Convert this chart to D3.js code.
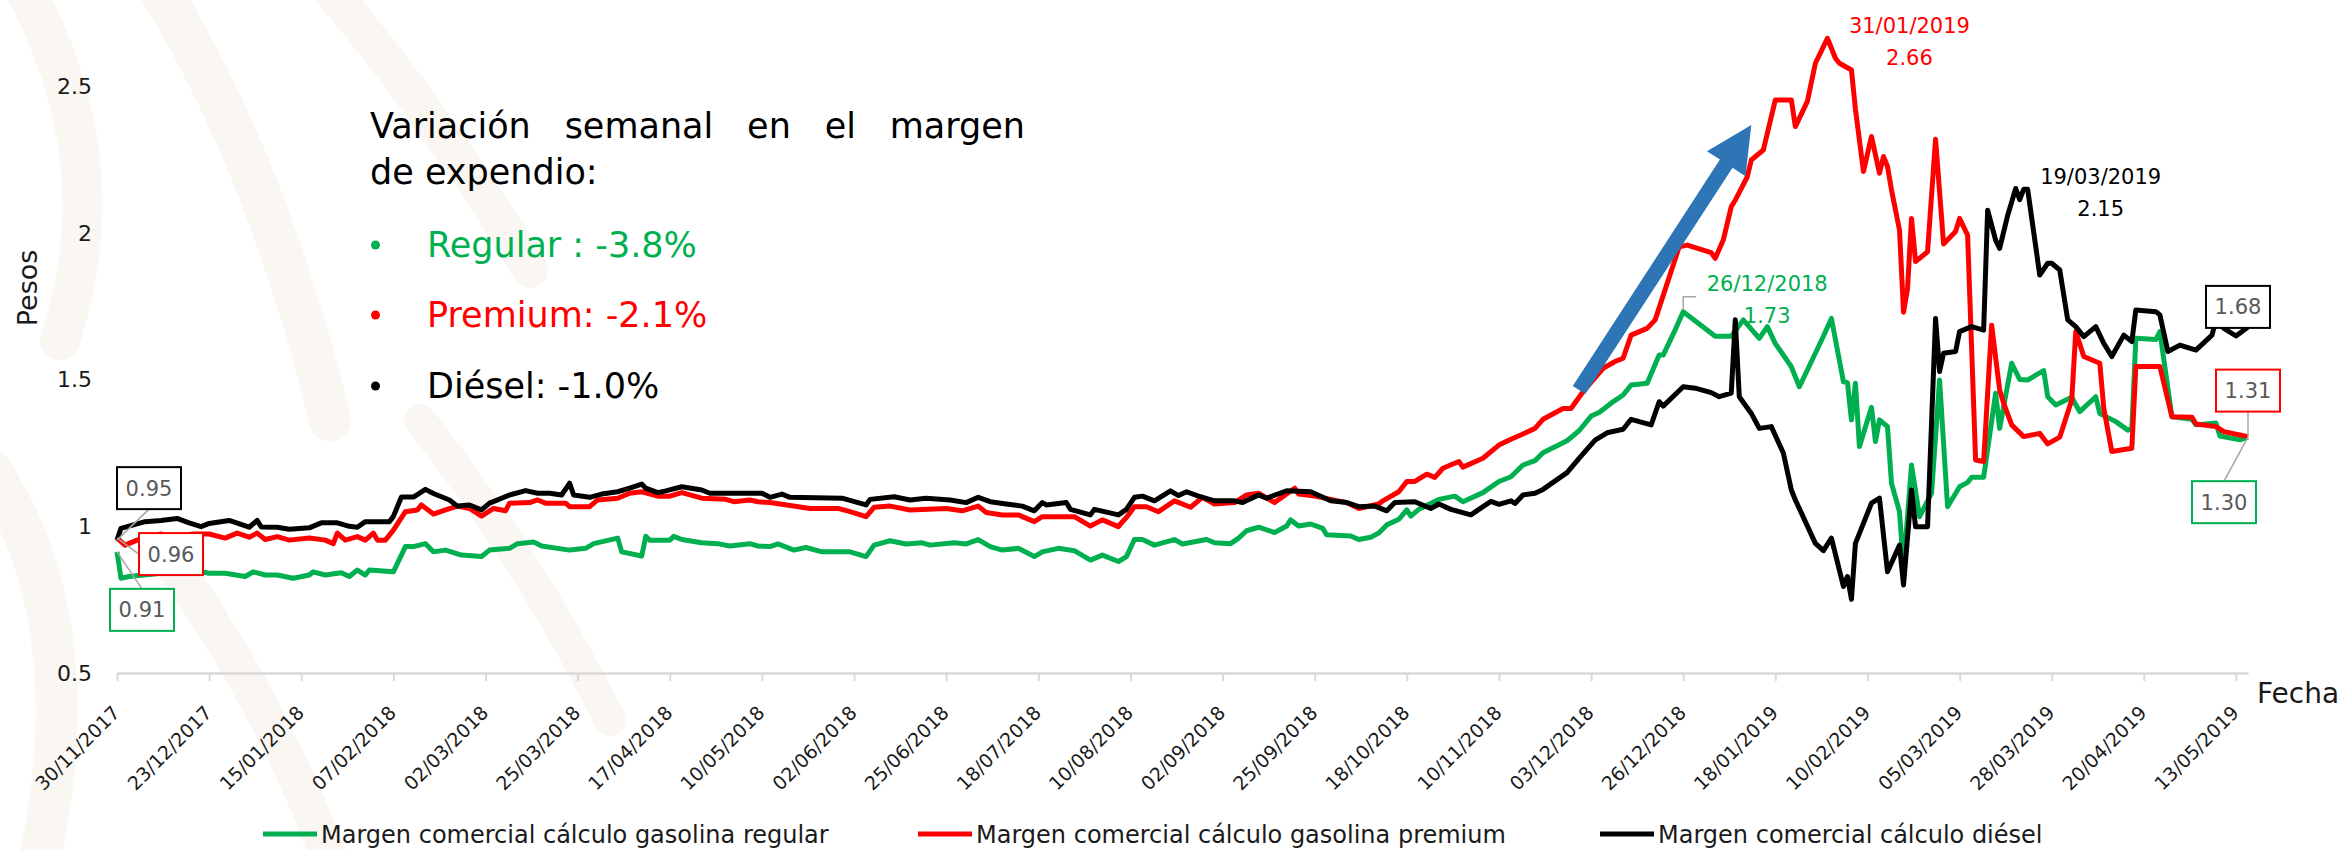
<!DOCTYPE html>
<html lang="es">
<head>
<meta charset="utf-8">
<script src="https://cdn.jsdelivr.net/npm/d3@7"></script>
<style>
  html, body { margin: 0; padding: 0; background: #fff; }
  svg { display: block; font-family: "DejaVu Sans", sans-serif; font-weight: normal; }
</style>
</head>
<body>
<div id="chart"></div>
<script>
// Margen comercial diario (pesos por litro)
const fechasRegular = ["2017-11-30","2017-12-01","2017-12-03","2017-12-11","2017-12-19","2017-12-23","2017-12-27","2018-01-01","2018-01-03","2018-01-06","2018-01-09","2018-01-13","2018-01-17","2018-01-18","2018-01-21","2018-01-25","2018-01-27","2018-01-29","2018-01-31","2018-02-01","2018-02-07","2018-02-10","2018-02-12","2018-02-15","2018-02-17","2018-02-20","2018-02-24","2018-03-01","2018-03-03","2018-03-08","2018-03-10","2018-03-14","2018-03-16","2018-03-23","2018-03-27","2018-03-29","2018-04-04","2018-04-05","2018-04-10","2018-04-11","2018-04-12","2018-04-17","2018-04-18","2018-04-20","2018-04-25","2018-04-29","2018-05-02","2018-05-07","2018-05-09","2018-05-12","2018-05-14","2018-05-18","2018-05-21","2018-05-25","2018-06-01","2018-06-05","2018-06-07","2018-06-11","2018-06-15","2018-06-19","2018-06-21","2018-06-27","2018-06-30","2018-07-03","2018-07-06","2018-07-09","2018-07-13","2018-07-17","2018-07-19","2018-07-23","2018-07-27","2018-07-31","2018-08-03","2018-08-07","2018-08-09","2018-08-11","2018-08-13","2018-08-16","2018-08-21","2018-08-23","2018-08-29","2018-08-31","2018-09-04","2018-09-06","2018-09-08","2018-09-11","2018-09-15","2018-09-18","2018-09-19","2018-09-21","2018-09-24","2018-09-27","2018-09-28","2018-10-04","2018-10-06","2018-10-09","2018-10-11","2018-10-13","2018-10-16","2018-10-18","2018-10-19","2018-10-21","2018-10-26","2018-10-30","2018-11-01","2018-11-06","2018-11-10","2018-11-13","2018-11-16","2018-11-19","2018-11-21","2018-11-27","2018-11-30","2018-12-03","2018-12-05","2018-12-08","2018-12-11","2018-12-13","2018-12-17","2018-12-20","2018-12-21","2018-12-24","2018-12-26","2019-01-03","2019-01-07","2019-01-10","2019-01-14","2019-01-16","2019-01-18","2019-01-22","2019-01-24","2019-01-26","2019-01-30","2019-02-01","2019-02-04","2019-02-05","2019-02-06","2019-02-07","2019-02-08","2019-02-11","2019-02-12","2019-02-13","2019-02-15","2019-02-16","2019-02-18","2019-02-19","2019-02-21","2019-02-23","2019-02-26","2019-02-28","2019-03-02","2019-03-05","2019-03-07","2019-03-08","2019-03-11","2019-03-14","2019-03-15","2019-03-18","2019-03-20","2019-03-22","2019-03-26","2019-03-27","2019-03-29","2019-04-02","2019-04-04","2019-04-08","2019-04-09","2019-04-13","2019-04-16","2019-04-17","2019-04-18","2019-04-23","2019-04-24","2019-04-27","2019-05-02","2019-05-03","2019-05-08","2019-05-09","2019-05-14","2019-05-16"];
const regular = [0.913,0.823,0.829,0.84,0.851,0.84,0.84,0.829,0.845,0.834,0.834,0.823,0.834,0.845,0.834,0.842,0.829,0.851,0.834,0.851,0.845,0.931,0.931,0.941,0.913,0.919,0.902,0.897,0.919,0.925,0.941,0.947,0.933,0.919,0.925,0.941,0.96,0.913,0.899,0.966,0.953,0.953,0.966,0.955,0.944,0.941,0.933,0.941,0.933,0.931,0.94,0.919,0.928,0.913,0.913,0.897,0.936,0.951,0.94,0.944,0.936,0.944,0.94,0.955,0.931,0.919,0.925,0.897,0.913,0.925,0.917,0.885,0.902,0.88,0.897,0.955,0.955,0.936,0.955,0.94,0.955,0.944,0.941,0.96,0.985,0.997,0.979,1.001,1.022,1.001,1.008,0.993,0.971,0.967,0.955,0.963,0.977,1.005,1.024,1.056,1.035,1.058,1.092,1.103,1.084,1.115,1.153,1.169,1.209,1.224,1.251,1.292,1.326,1.376,1.388,1.42,1.448,1.482,1.488,1.584,1.584,1.67,1.732,1.648,1.648,1.704,1.641,1.681,1.623,1.544,1.476,1.533,1.648,1.709,1.493,1.49,1.363,1.488,1.272,1.406,1.289,1.363,1.34,1.147,1.05,0.86,1.209,1.033,1.113,1.499,1.067,1.135,1.15,1.167,1.167,1.454,1.334,1.556,1.501,1.499,1.531,1.442,1.414,1.44,1.391,1.442,1.385,1.357,1.328,1.334,1.641,1.637,1.664,1.374,1.365,1.346,1.352,1.308,1.295,1.304];

const fechasPremium = ["2017-11-30","2017-12-02","2017-12-05","2017-12-08","2017-12-11","2017-12-13","2017-12-19","2017-12-23","2017-12-27","2017-12-30","2018-01-02","2018-01-04","2018-01-06","2018-01-09","2018-01-12","2018-01-17","2018-01-21","2018-01-23","2018-01-24","2018-01-26","2018-01-29","2018-01-31","2018-02-02","2018-02-03","2018-02-05","2018-02-07","2018-02-10","2018-02-13","2018-02-14","2018-02-17","2018-02-20","2018-02-23","2018-02-26","2018-03-01","2018-03-04","2018-03-07","2018-03-08","2018-03-13","2018-03-15","2018-03-17","2018-03-22","2018-03-23","2018-03-28","2018-03-30","2018-04-04","2018-04-07","2018-04-10","2018-04-14","2018-04-17","2018-04-20","2018-04-25","2018-05-01","2018-05-03","2018-05-07","2018-05-09","2018-05-12","2018-05-22","2018-05-29","2018-06-01","2018-06-05","2018-06-07","2018-06-11","2018-06-16","2018-06-25","2018-06-29","2018-07-03","2018-07-05","2018-07-09","2018-07-13","2018-07-17","2018-07-19","2018-07-27","2018-07-31","2018-08-03","2018-08-07","2018-08-08","2018-08-09","2018-08-11","2018-08-14","2018-08-17","2018-08-21","2018-08-25","2018-08-28","2018-08-31","2018-09-05","2018-09-08","2018-09-11","2018-09-15","2018-09-20","2018-09-21","2018-09-25","2018-09-29","2018-10-03","2018-10-06","2018-10-11","2018-10-12","2018-10-16","2018-10-18","2018-10-20","2018-10-23","2018-10-25","2018-10-27","2018-10-31","2018-11-01","2018-11-06","2018-11-10","2018-11-13","2018-11-16","2018-11-19","2018-11-21","2018-11-26","2018-11-28","2018-11-30","2018-12-01","2018-12-06","2018-12-09","2018-12-11","2018-12-13","2018-12-17","2018-12-19","2018-12-25","2018-12-27","2019-01-02","2019-01-03","2019-01-05","2019-01-07","2019-01-08","2019-01-11","2019-01-12","2019-01-15","2019-01-18","2019-01-22","2019-01-23","2019-01-26","2019-01-28","2019-01-31","2019-02-02","2019-02-03","2019-02-06","2019-02-07","2019-02-09","2019-02-11","2019-02-13","2019-02-14","2019-02-15","2019-02-16","2019-02-18","2019-02-19","2019-02-20","2019-02-21","2019-02-22","2019-02-25","2019-02-27","2019-03-01","2019-03-04","2019-03-05","2019-03-07","2019-03-09","2019-03-11","2019-03-13","2019-03-15","2019-03-16","2019-03-18","2019-03-21","2019-03-25","2019-03-27","2019-03-30","2019-04-02","2019-04-03","2019-04-05","2019-04-09","2019-04-10","2019-04-12","2019-04-17","2019-04-18","2019-04-24","2019-04-27","2019-05-02","2019-05-03","2019-05-08","2019-05-10","2019-05-16"];
const premium = [0.96,0.936,0.953,0.965,0.974,0.96,0.974,0.974,0.96,0.977,0.963,0.977,0.955,0.965,0.953,0.96,0.953,0.941,0.977,0.953,0.965,0.953,0.977,0.953,0.953,0.987,1.05,1.056,1.073,1.042,1.056,1.069,1.061,1.035,1.061,1.053,1.079,1.081,1.09,1.079,1.079,1.067,1.067,1.09,1.096,1.113,1.118,1.103,1.103,1.115,1.096,1.092,1.084,1.09,1.084,1.081,1.061,1.061,1.05,1.033,1.065,1.069,1.056,1.061,1.053,1.069,1.047,1.039,1.039,1.016,1.033,1.033,1.001,1.022,0.999,1.016,1.03,1.067,1.067,1.05,1.087,1.065,1.099,1.076,1.081,1.107,1.113,1.081,1.13,1.11,1.103,1.092,1.081,1.061,1.076,1.087,1.118,1.153,1.153,1.178,1.167,1.198,1.221,1.202,1.232,1.277,1.297,1.315,1.334,1.365,1.402,1.402,1.44,1.459,1.539,1.562,1.573,1.652,1.675,1.704,1.953,1.959,1.933,1.914,1.976,2.09,2.112,2.192,2.249,2.283,2.454,2.454,2.363,2.449,2.579,2.664,2.596,2.579,2.556,2.422,2.21,2.329,2.204,2.261,2.227,2.147,2.01,1.73,1.81,2.05,1.903,1.936,2.32,1.963,2.005,2.05,1.993,1.226,1.221,1.686,1.465,1.42,1.346,1.306,1.317,1.281,1.304,1.431,1.664,1.579,1.556,1.402,1.255,1.266,1.545,1.545,1.374,1.372,1.349,1.34,1.323,1.306];

const fechasDiesel = ["2017-11-30","2017-12-01","2017-12-07","2017-12-11","2017-12-15","2017-12-18","2017-12-21","2017-12-23","2017-12-28","2018-01-02","2018-01-04","2018-01-05","2018-01-09","2018-01-12","2018-01-17","2018-01-20","2018-01-24","2018-01-27","2018-01-29","2018-01-31","2018-02-06","2018-02-07","2018-02-09","2018-02-12","2018-02-15","2018-02-17","2018-02-21","2018-02-23","2018-02-26","2018-03-01","2018-03-03","2018-03-08","2018-03-12","2018-03-15","2018-03-18","2018-03-21","2018-03-23","2018-03-24","2018-03-28","2018-03-31","2018-04-04","2018-04-07","2018-04-10","2018-04-11","2018-04-14","2018-04-16","2018-04-20","2018-04-25","2018-04-27","2018-05-10","2018-05-12","2018-05-15","2018-05-17","2018-05-30","2018-06-05","2018-06-06","2018-06-12","2018-06-16","2018-06-20","2018-06-26","2018-06-30","2018-07-03","2018-07-06","2018-07-10","2018-07-14","2018-07-17","2018-07-19","2018-07-20","2018-07-25","2018-07-26","2018-07-31","2018-08-01","2018-08-07","2018-08-09","2018-08-11","2018-08-13","2018-08-16","2018-08-20","2018-08-22","2018-08-24","2018-08-27","2018-08-31","2018-09-05","2018-09-07","2018-09-11","2018-09-13","2018-09-18","2018-09-24","2018-09-29","2018-10-03","2018-10-06","2018-10-10","2018-10-13","2018-10-15","2018-10-20","2018-10-24","2018-10-26","2018-10-29","2018-11-03","2018-11-05","2018-11-08","2018-11-10","2018-11-13","2018-11-14","2018-11-16","2018-11-19","2018-11-21","2018-11-27","2018-11-30","2018-12-04","2018-12-07","2018-12-11","2018-12-13","2018-12-18","2018-12-20","2018-12-21","2018-12-26","2018-12-29","2019-01-02","2019-01-04","2019-01-07","2019-01-08","2019-01-09","2019-01-12","2019-01-14","2019-01-17","2019-01-20","2019-01-22","2019-01-23","2019-01-28","2019-01-30","2019-02-01","2019-02-04","2019-02-05","2019-02-06","2019-02-07","2019-02-11","2019-02-13","2019-02-15","2019-02-18","2019-02-19","2019-02-21","2019-02-22","2019-02-25","2019-02-27","2019-02-28","2019-03-01","2019-03-04","2019-03-05","2019-03-08","2019-03-11","2019-03-12","2019-03-14","2019-03-15","2019-03-17","2019-03-19","2019-03-20","2019-03-21","2019-03-22","2019-03-25","2019-03-27","2019-03-28","2019-03-30","2019-04-01","2019-04-03","2019-04-05","2019-04-08","2019-04-10","2019-04-12","2019-04-15","2019-04-17","2019-04-18","2019-04-23","2019-04-24","2019-04-26","2019-04-29","2019-05-03","2019-05-07","2019-05-08","2019-05-10","2019-05-13","2019-05-16"];
const diesel = [0.953,0.993,1.016,1.02,1.027,1.012,0.999,1.01,1.02,0.997,1.02,0.998,0.997,0.99,0.995,1.012,1.012,1.0,0.997,1.016,1.016,1.034,1.10,1.10,1.126,1.112,1.09,1.069,1.073,1.056,1.079,1.107,1.122,1.113,1.113,1.107,1.147,1.107,1.099,1.11,1.118,1.13,1.144,1.13,1.115,1.121,1.135,1.124,1.113,1.113,1.099,1.11,1.099,1.096,1.073,1.092,1.101,1.09,1.096,1.09,1.081,1.099,1.084,1.076,1.069,1.053,1.081,1.073,1.081,1.058,1.039,1.058,1.039,1.058,1.099,1.103,1.087,1.121,1.105,1.118,1.103,1.087,1.087,1.081,1.107,1.096,1.121,1.118,1.087,1.081,1.067,1.069,1.053,1.081,1.084,1.061,1.076,1.058,1.039,1.058,1.085,1.075,1.087,1.078,1.107,1.113,1.126,1.183,1.232,1.294,1.319,1.331,1.365,1.346,1.425,1.41,1.476,1.471,1.456,1.442,1.454,1.704,1.442,1.385,1.334,1.34,1.25,1.124,1.09,0.942,0.917,0.96,0.795,0.829,0.751,0.942,1.079,1.096,0.845,0.936,0.80,1.124,0.999,0.999,1.709,1.528,1.59,1.596,1.664,1.681,1.669,2.078,1.976,1.948,2.06,2.152,2.114,2.149,2.149,1.857,1.897,1.897,1.874,1.704,1.681,1.647,1.681,1.624,1.579,1.652,1.63,1.738,1.732,1.721,1.596,1.618,1.601,1.652,1.701,1.675,1.649,1.68];

const tickFechas = ["30/11/2017","23/12/2017","15/01/2018","07/02/2018","02/03/2018","25/03/2018","17/04/2018","10/05/2018","02/06/2018","25/06/2018","18/07/2018","10/08/2018","02/09/2018","25/09/2018","18/10/2018","10/11/2018","03/12/2018","26/12/2018","18/01/2019","10/02/2019","05/03/2019","28/03/2019","20/04/2019","13/05/2019"];
const yTicks = [0.5, 1, 1.5, 2, 2.5];

const nombres = ["Margen comercial cálculo gasolina regular", "Margen comercial cálculo gasolina premium", "Margen comercial cálculo diésel"];
const colores = ["#00B050", "#FF0000", "#000000"];
const variaciones = ["Regular : -3.8%", "Premium: -2.1%", "Diésel: -1.0%"];

const W = 2349, H = 850;
const parseIso = d3.timeParse("%Y-%m-%d");
const parseTick = d3.timeParse("%d/%m/%Y");

const svg = d3.select("#chart").append("svg")
    .attr("width", W)
    .attr("height", H);

// marca de agua (fondo)
const fondo = svg.append("g")
    .attr("fill", "none")
    .attr("stroke", "#FAF7F2")
    .attr("stroke-linecap", "round");
[
    ["M 20,-20 Q 120,160 60,340", 40],
    ["M 160,-10 Q 270,170 330,420", 42],
    ["M 330,-10 Q 440,120 530,270", 36],
    ["M -10,470 Q 90,620 40,860", 42],
    ["M 170,560 Q 270,700 330,860", 36],
    ["M 420,420 Q 530,560 610,720", 32]
].forEach(([d, w]) => fondo.append("path").attr("d", d).attr("stroke-width", w));

const x = d3.scaleTime()
    .domain([parseIso("2017-11-30"), parseIso("2019-05-16")])
    .range([117, 2248]);
const y = d3.scaleLinear()
    .domain([0.5, 2.5])
    .range([673, 86.4]);

// eje x
const gx = svg.append("g")
    .attr("transform", "translate(0,673)")
    .call(d3.axisBottom(x)
        .tickValues(tickFechas.map(parseTick))
        .tickSize(8)
        .tickSizeOuter(0)
        .tickFormat(""));
gx.select(".domain").attr("stroke", "#D9D9D9").attr("stroke-width", 2.5);
gx.selectAll(".tick line").attr("stroke", "#D9D9D9").attr("stroke-width", 2);

svg.append("g").selectAll("text")
    .data(tickFechas)
    .enter().append("text")
    .attr("transform", d => `translate(${x(parseTick(d)) + 4},714) rotate(-45)`)
    .attr("text-anchor", "end")
    .attr("font-size", 19)
    .attr("fill", "#1a1a1a")
    .text(d => d);

// eje y
const gy = svg.append("g")
    .attr("transform", "translate(92,0)")
    .call(d3.axisLeft(y).tickValues(yTicks).tickSize(0).tickPadding(0).tickFormat(d => String(d)));
gy.select(".domain").remove();
gy.selectAll("text")
    .attr("font-family", "'DejaVu Sans', sans-serif")
    .attr("font-size", 22)
    .attr("fill", "#1a1a1a");

svg.append("text")
    .attr("transform", "translate(37,288) rotate(-90)")
    .attr("text-anchor", "middle")
    .attr("font-size", 27)
    .attr("fill", "#1a1a1a")
    .text("Pesos");

svg.append("text")
    .attr("x", 2257)
    .attr("y", 703)
    .attr("font-size", 28)
    .attr("fill", "#1a1a1a")
    .text("Fecha");

// series
const series = [
    { fechas: fechasRegular, valores: regular },
    { fechas: fechasPremium, valores: premium },
    { fechas: fechasDiesel, valores: diesel }
];
const line = d3.line()
    .x(d => x(d.fecha))
    .y(d => y(d.valor));

series.forEach((s, i) => {
    const pts = s.fechas.map((f, j) => ({ fecha: parseIso(f), valor: s.valores[j] }));
    svg.append("path")
        .datum(pts)
        .attr("fill", "none")
        .attr("stroke", colores[i])
        .attr("stroke-width", 5)
        .attr("stroke-linejoin", "round")
        .attr("d", line);
});

// flecha azul
const flechaIni = [x(parseIso("2018-11-30")), y(1.465)];
const flechaFin = [x(parseIso("2019-01-12")), y(2.368)];
{
    const dx = flechaFin[0] - flechaIni[0], dy = flechaFin[1] - flechaIni[1];
    const len = Math.hypot(dx, dy);
    const ux = dx / len, uy = dy / len, nx = -uy, ny = ux;
    const shaft = 7.5, head = 23, headLen = 46;
    const bx = flechaFin[0] - ux * headLen, by = flechaFin[1] - uy * headLen;
    const p = [
        [flechaIni[0] + nx * shaft, flechaIni[1] + ny * shaft],
        [bx + nx * shaft, by + ny * shaft],
        [bx + nx * head, by + ny * head],
        flechaFin,
        [bx - nx * head, by - ny * head],
        [bx - nx * shaft, by - ny * shaft],
        [flechaIni[0] - nx * shaft, flechaIni[1] - ny * shaft]
    ];
    svg.append("polygon")
        .attr("points", p.map(q => q.join(",")).join(" "))
        .attr("fill", "#2E75B6");
}

// etiquetas de inicio y fin
function caja(fecha, valor, dx, dy, color, texto, lider) {
    const px = x(parseIso(fecha)), py = y(valor);
    const cx = px + dx, cy = py + dy;
    const w = 64, h = 42;
    if (lider) {
        svg.append("line")
            .attr("x1", px).attr("y1", py)
            .attr("x2", cx + lider[0]).attr("y2", cy + lider[1])
            .attr("stroke", "#A6A6A6").attr("stroke-width", 1.5);
    }
    svg.append("rect")
        .attr("x", cx - w / 2).attr("y", cy - h / 2)
        .attr("width", w).attr("height", h)
        .attr("fill", "#fff")
        .attr("stroke", color).attr("stroke-width", 2);
    svg.append("text")
        .attr("x", cx).attr("y", cy)
        .attr("dy", "0.36em")
        .attr("text-anchor", "middle")
        .attr("font-size", 21)
        .attr("fill", "#595959")
        .text(texto);
}
caja("2017-11-30", 0.953, 32, -52, "#000000", "0.95", [0, 21]);
caja("2017-11-30", 0.96, 54, 16, "#FF0000", "0.96", [-32, 0]);
caja("2017-11-30", 0.913, 25, 58, "#00B050", "0.91", [0, -21]);
caja("2019-05-16", 1.68, -10, -20, "#000000", "1.68", null);
caja("2019-05-16", 1.306, 0, -46, "#FF0000", "1.31", [0, 21]);
caja("2019-05-16", 1.304, -24, 65, "#00B050", "1.30", [0, -21]);

// etiquetas de máximos
function maximo(fecha, valor, tx, ty, color) {
    const cx = x(parseIso(fecha)) + tx;
    const cy = y(valor) + ty;
    const g = svg.append("g").attr("fill", color).attr("font-size", 21).attr("text-anchor", "middle");
    g.append("text").attr("x", cx).attr("y", cy).text(d3.timeFormat("%d/%m/%Y")(parseIso(fecha)));
    g.append("text").attr("x", cx).attr("y", cy + 32).text(valor.toFixed(2));
}
maximo("2019-01-31", 2.66, 82, -6, "#FF0000");
maximo("2019-03-19", 2.15, 85, -5, "#000000");
maximo("2018-12-26", 1.73, 84, -21, "#00B050");
{
    const px = x(parseIso("2018-12-26")), py = y(1.732);
    svg.append("path")
        .attr("d", `M${px},${py - 2} V${py - 15} H${px + 13}`)
        .attr("fill", "none").attr("stroke", "#A6A6A6").attr("stroke-width", 1.5);
}

// texto de variación semanal
const titulo = svg.append("g").attr("fill", "#000").attr("font-size", 35);
const l1 = titulo.append("text").attr("x", 370).attr("y", 138).text("Variación semanal en el margen");
const natural = l1.node().getComputedTextLength();
l1.attr("word-spacing", Math.max(0, (655 - natural) / 4));
titulo.append("text").attr("x", 370).attr("y", 184).text("de expendio:");

variaciones.forEach((t, i) => {
    const yy = [257, 327, 398][i];
    svg.append("circle").attr("cx", 375.5).attr("cy", yy - 12).attr("r", 4.5).attr("fill", colores[i]);
    svg.append("text").attr("x", 427).attr("y", yy)
        .attr("font-size", 35).attr("fill", colores[i]).text(t);
});

// leyenda
const leyX = [263, 918, 1600];
nombres.forEach((n, i) => {
    svg.append("line")
        .attr("x1", leyX[i]).attr("x2", leyX[i] + 54)
        .attr("y1", 834).attr("y2", 834)
        .attr("stroke", colores[i]).attr("stroke-width", 5);
    svg.append("text")
        .attr("x", leyX[i] + 58).attr("y", 843)
        .attr("font-size", 24).attr("fill", "#1a1a1a")
        .text(n);
});
</script>
</body>
</html>
